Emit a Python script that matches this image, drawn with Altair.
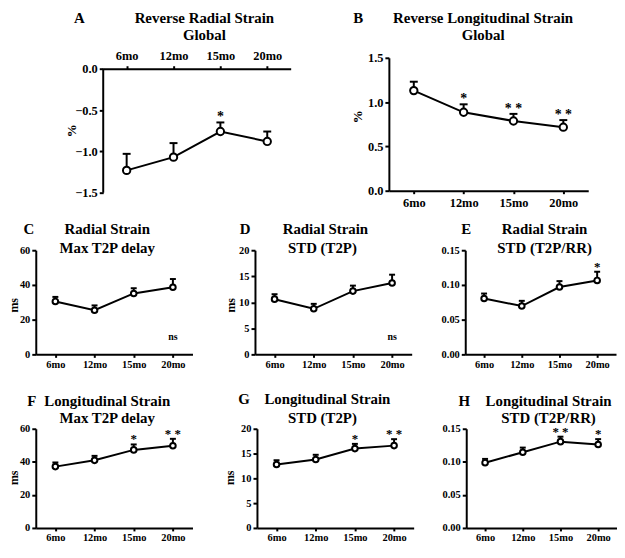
import altair as alt
import pandas as pd

months = ["6mo", "12mo", "15mo", "20mo"]

a_mean = [-1.23, -1.07, -0.76, -0.88]
a_sem = [0.20, 0.17, 0.11, 0.12]
a_sig = ["", "", "*", ""]

b_mean = [1.13, 0.885, 0.787, 0.717]
b_sem = [0.10, 0.09, 0.08, 0.08]
b_sig = ["", "*", "* *", "* *"]

c_mean = [30.5, 25.4, 35.1, 38.7]
c_sem = [2.6, 2.8, 3.0, 4.7]
c_sig = ["", "", "", ""]

d_mean = [10.6, 8.75, 12.15, 13.7]
d_sem = [0.95, 0.95, 1.05, 1.6]
d_sig = ["", "", "", ""]

e_mean = [0.0805, 0.0696, 0.097, 0.1065]
e_sem = [0.0071, 0.0075, 0.0085, 0.0125]
e_sig = ["", "", "", "*"]

f_mean = [37.1, 40.9, 47.2, 49.7]
f_sem = [2.5, 2.7, 3.3, 4.2]
f_sig = ["", "", "*", "* *"]

g_mean = [12.8, 13.8, 16.0, 16.6]
g_sem = [0.85, 0.95, 0.95, 1.3]
g_sig = ["", "", "*", "* *"]

h_mean = [0.0987, 0.1144, 0.1305, 0.1262]
h_sem = [0.0057, 0.0071, 0.0075, 0.0081]
h_sig = ["", "", "* *", "*"]

FONT = "Liberation Serif"
one = pd.DataFrame({"k": [0]})


def panel(mean, sem, sig, domain, ticks, fmt, w, h, box, letter, letter_xy,
          titles, ytitle="", ytitle_xy=(0, 0), x_top=False, note="", big=False,
          top_gap=0):
    df = pd.DataFrame({"month": months, "mean": mean, "sem": sem, "sig": sig})
    lab = 12.5 if big else 10.5
    xkw = dict(title=None, orient="top" if x_top else "bottom", labelAngle=0,
               labelFontSize=lab, labelPadding=3 if big else 2, tickSize=3)
    if top_gap:
        xkw.update(offset=-top_gap)
    xaxis = alt.Axis(**xkw)
    xscale = alt.Scale(type="point", padding=0.5)
    ykw = dict(values=ticks, format=fmt, labelFontSize=lab, tickSize=4, labelPadding=2)
    if top_gap:
        ykw.update(domain=False)
    if ytitle:
        ykw.update(title=ytitle, titleX=ytitle_xy[0], titleY=ytitle_xy[1], titleAngle=-90,
                   titleAlign="center", titleBaseline="middle",
                   titleFontSize=13 if big else 12)
    else:
        ykw.update(title=None)
    yaxis = alt.Axis(**ykw)
    yscale = alt.Scale(domain=domain, nice=False, zero=False)
    X = alt.X("month:N", sort=months, scale=xscale, axis=xaxis)
    Ymean = alt.Y("mean:Q", scale=yscale, axis=yaxis)
    Ytop = alt.Y("top:Q", scale=yscale, axis=yaxis)
    base = alt.Chart(df).transform_calculate(top="datum.mean + datum.sem")
    stem = base.mark_rule(color="black", strokeWidth=2).encode(x=X, y=Ymean, y2="top:Q")
    cap = base.mark_tick(color="black", orient="horizontal", size=8 if big else 6,
                         thickness=2, opacity=1).encode(x=X, y=Ytop)
    line = base.mark_line(color="black", strokeWidth=2).encode(x=X, y=Ymean)
    pts = base.mark_point(shape="circle", filled=True, fill="white", stroke="black",
                          strokeWidth=2, opacity=1, size=55 if big else 32).encode(x=X, y=Ymean)
    stars = base.mark_text(font=FONT, fontWeight="bold", fontSize=14 if big else 13,
                           baseline="alphabetic", dy=-1, color="black").encode(
        x=X, y=Ytop, text="sig:N")
    anchor = alt.Chart(one).mark_rule(opacity=0, strokeWidth=0.01).encode(
        x=alt.value(-box[0]), x2=alt.value(box[2]),
        y=alt.value(-box[1]), y2=alt.value(box[3]))
    tstyle = dict(font=FONT, fontWeight="bold", fontSize=15, color="black",
                  align="center", baseline="middle")
    layers = [anchor]
    if top_gap:
        layers.append(alt.Chart(one).mark_rule(color="black", strokeWidth=2).encode(
            x=alt.value(0), y=alt.datum(0, scale=yscale, axis=yaxis),
            y2=alt.datum(domain[0])))
    layers += [stem, cap, line, pts, stars]
    layers.append(alt.Chart(one).mark_text(text=letter, **tstyle).encode(
        x=alt.value(letter_xy[0]), y=alt.value(letter_xy[1])))
    for (txt, tx, ty) in titles:
        layers.append(alt.Chart(one).mark_text(text=txt, **tstyle).encode(
            x=alt.value(tx), y=alt.value(ty)))
    if note:
        layers.append(base.transform_filter(alt.datum.month == months[-1]).mark_text(
            text=note, font=FONT, fontWeight="bold", fontSize=10, color="black").encode(
            x=X, y=alt.value(88)))
    return alt.layer(*layers).properties(width=w, height=h)


spacer = alt.Chart(one).mark_rule(opacity=0, strokeWidth=0.01).encode(
    x=alt.value(0), x2=alt.value(28), y=alt.value(0), y2=alt.value(1)
).properties(width=28, height=1)

A = panel(a_mean, a_sem, a_sig, [-1.5, 0.132], [-1.5, -1.0, -0.5, 0.0], ".1f", 189, 136,
          (40, 48, 216, 164), "A", (-24, -40),
          [("Reverse Radial Strain", 102, -40), ("Global", 102, -23)],
          ytitle="%", ytitle_xy=(-32, 73), x_top=True, big=True, top_gap=11)
B = panel(b_mean, b_sem, b_sig, [0, 1.5], [0.0, 0.5, 1.0, 1.5], ".1f", 201, 134,
          (72, 48, 201, 164), "B", (-31, -40),
          [("Reverse Longitudinal Strain", 95, -40), ("Global", 95, -23)],
          ytitle="%", ytitle_xy=(-32, 59), big=True)

C = panel(c_mean, c_sem, c_sig, [0, 60], [0, 20, 40, 60], "d", 158, 105,
          (28, 30, 186, 143), "C", (-7, -21),
          [("Radial Strain", 72, -21), ("Max T2P delay", 72, -2)],
          ytitle="ms", ytitle_xy=(-22, 55), note="ns")
D = panel(d_mean, d_sem, d_sig, [0, 20], [0, 5, 10, 15, 20], "d", 158, 105,
          (35, 30, 180, 143), "D", (-10, -21),
          [("Radial Strain", 71, -21), ("STD (T2P)", 68, -2)],
          ytitle="ms", ytitle_xy=(-25, 55), note="ns")
E = panel(e_mean, e_sem, e_sig, [0, 0.15], [0.0, 0.05, 0.10, 0.15], ".2f", 152, 105,
          (32, 30, 152, 143), "E", (1, -21),
          [("Radial Strain", 80, -21), ("STD (T2P/RR)", 80, -2)])

F = panel(f_mean, f_sem, f_sig, [0, 60], [0, 20, 40, 60], "d", 158, 100,
          (28, 36, 186, 100), "F", (-4, -28),
          [("Longitudinal Strain", 72, -28), ("Max T2P delay", 72, -11)],
          ytitle="ms", ytitle_xy=(-22, 49))
G = panel(g_mean, g_sem, g_sig, [0, 20], [0, 5, 10, 15, 20], "d", 158, 100,
          (37, 36, 178, 100), "G", (-13, -30),
          [("Longitudinal Strain", 71, -30), ("STD (T2P)", 66, -11)],
          ytitle="ms", ytitle_xy=(-28, 49))
H = panel(h_mean, h_sem, h_sig, [0, 0.15], [0.0, 0.05, 0.10, 0.15], ".2f", 152, 100,
          (33, 36, 152, 100), "H", (-2, -28),
          [("Longitudinal Strain", 83, -28), ("STD (T2P/RR)", 83, -11)])

row1 = alt.hconcat(spacer, A, B, spacing=0)
row2 = alt.hconcat(C, D, E, spacing=0)
row3 = alt.hconcat(F, G, H, spacing=0)

chart = alt.vconcat(row1, row2, row3, spacing=0).properties(padding=0).configure_view(
    strokeWidth=0
).configure_axis(
    domainColor="black", domainWidth=2, tickColor="black", tickWidth=2,
    labelColor="black", labelFont=FONT, labelFontWeight="bold",
    titleColor="black", titleFont=FONT, titleFontWeight="bold", grid=False
)

chart.save("out.html", embed_options={"renderer": "svg", "actions": False})
